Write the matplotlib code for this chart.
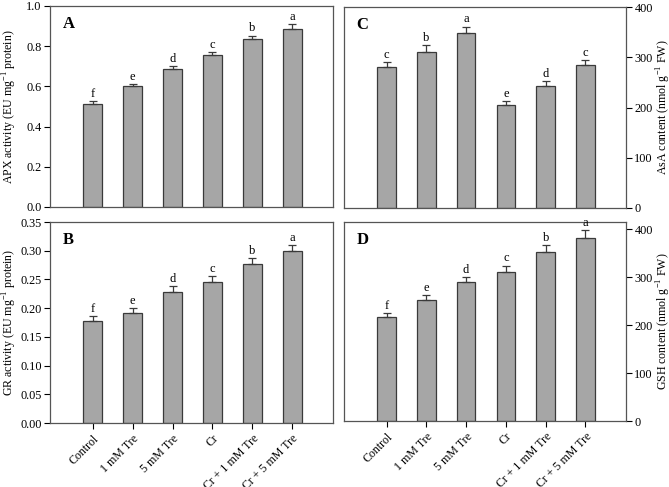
import matplotlib
matplotlib.use("Agg")
import matplotlib.pyplot as plt
from matplotlib.ticker import FixedLocator, StrMethodFormatter

plt.rcParams['font.family'] = ['Liberation Serif', 'DejaVu Serif']
plt.rcParams['mathtext.fontset'] = 'custom'
plt.rcParams['mathtext.rm'] = 'Liberation Serif'

treatments = ["Control", "1 mM Tre", "5 mM Tre", "Cr", "Cr + 1 mM Tre", "Cr + 5 mM Tre"]

apx = [0.514, 0.600, 0.688, 0.755, 0.834, 0.887]
apx_err = [0.012, 0.013, 0.013, 0.014, 0.019, 0.021]
apx_sig = ["f", "e", "d", "c", "b", "a"]

gr = [0.178, 0.191, 0.228, 0.246, 0.277, 0.299]
gr_err = [0.008, 0.009, 0.010, 0.010, 0.010, 0.011]
gr_sig = ["f", "e", "d", "c", "b", "a"]

asa = [280, 311, 348, 204, 243, 284]
asa_err = [10, 13, 13, 8, 10, 10]
asa_sig = ["c", "b", "a", "e", "d", "c"]

gsh = [216, 252, 289, 310, 352, 382]
gsh_err = [9, 10, 11, 14, 15, 16]
gsh_sig = ["f", "e", "d", "c", "b", "a"]

BAR = "#a6a6a6"
EDGE = "#3a3a3a"


def draw_panel(ax, vals, errs, sig, ylim, ticks, fmt, letter, ylabel, right=False, xlabels=False):
    x = list(range(len(vals)))
    ax.bar(x, vals, width=0.47, color=BAR, edgecolor=EDGE, linewidth=0.9, zorder=2)
    ax.errorbar(x, vals, yerr=[[0] * len(errs), errs], fmt='none', ecolor=EDGE,
                elinewidth=0.9, capsize=3, capthick=0.9, zorder=3)
    off = (ylim[1] - ylim[0]) * 0.006
    for xi, v, e, s in zip(x, vals, errs, sig):
        ax.text(xi, v + e + off, s, ha='center', va='bottom', fontsize=9)
    ax.set_xlim(-1.07, 6.02)
    ax.set_ylim(*ylim)
    ax.yaxis.set_major_locator(FixedLocator(ticks))
    ax.yaxis.set_major_formatter(StrMethodFormatter(fmt))
    for lbl in ax.get_yticklabels():
        lbl.set_fontsize(8.8)
    ax.tick_params(axis='y', labelsize=8.8)
    for sp in ax.spines.values():
        sp.set_color("#555555")
        sp.set_linewidth(0.9)
    if right:
        ax.yaxis.tick_right()
        ax.yaxis.set_label_position("right")
        ax.set_ylabel(ylabel, fontsize=8.6, rotation=90)
        ax.yaxis.set_label_coords(1.103, 0.5)
    else:
        ax.set_ylabel(ylabel, fontsize=8.6)
        ax.yaxis.set_label_coords(-0.108, 0.5)
    ax.tick_params(axis='y', direction='out', length=4, width=0.8, pad=2)
    if xlabels:
        ax.set_xticks(x)
        ax.set_xticklabels(treatments, rotation=45, ha='right', rotation_mode='anchor', fontsize=8.6)
        ax.tick_params(axis='x', direction='out', length=4, width=0.8, pad=3)
    else:
        ax.set_xticks([])
    ax.text(0.045, 0.91, letter, transform=ax.transAxes, fontsize=12, fontweight='bold',
            ha='left', va='center')


fig = plt.figure(figsize=(6.69, 4.87), dpi=100)

ax_a = fig.add_axes([0.0747, 0.575, 0.4231, 0.4127])
ax_b = fig.add_axes([0.0747, 0.1314, 0.4231, 0.4127])
ax_c = fig.add_axes([0.5142, 0.5729, 0.4215, 0.4127])
ax_d = fig.add_axes([0.5142, 0.1355, 0.4215, 0.4086])

draw_panel(ax_a, apx, apx_err, apx_sig, (0, 1.0), [0.0, 0.2, 0.4, 0.6, 0.8, 1.0], "{x:.1f}", "A",
           r"APX activity (EU mg$^{\mathregular{-1}}$ protein)")
draw_panel(ax_b, gr, gr_err, gr_sig, (0, 0.35), [0.0, 0.05, 0.10, 0.15, 0.20, 0.25, 0.30, 0.35],
           "{x:.2f}", "B", r"GR activity (EU mg$^{\mathregular{-1}}$ protein)", xlabels=True)
draw_panel(ax_c, asa, asa_err, asa_sig, (0, 400), [0, 100, 200, 300, 400], "{x:.0f}", "C",
           r"AsA content (nmol g$^{\mathregular{-1}}$ FW)", right=True)
draw_panel(ax_d, gsh, gsh_err, gsh_sig, (0, 415), [0, 100, 200, 300, 400], "{x:.0f}", "D",
           r"GSH content (nmol g$^{\mathregular{-1}}$ FW)", right=True, xlabels=True)

fig.savefig("out.png", dpi=100)
